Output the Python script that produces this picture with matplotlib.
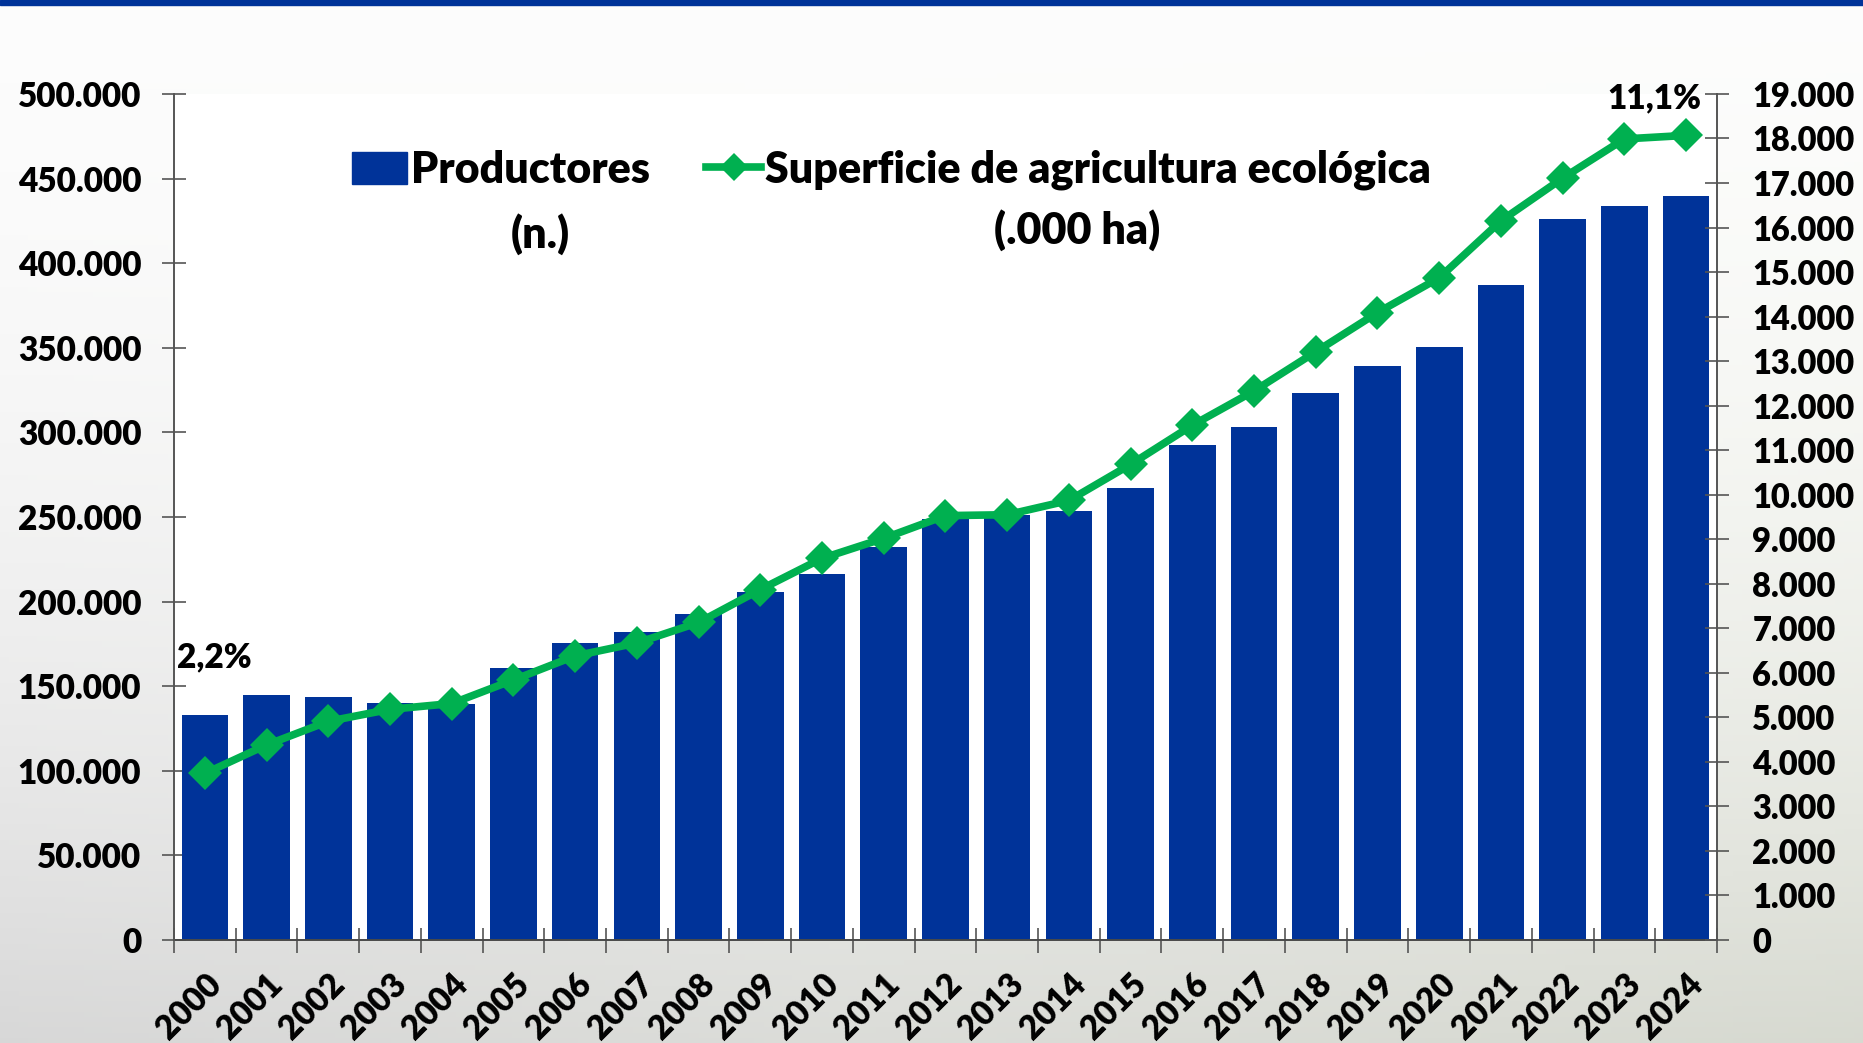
import matplotlib.pyplot as plt
import numpy as np
from matplotlib.ticker import FuncFormatter, FixedLocator
from matplotlib.lines import Line2D
from matplotlib.patches import Patch

years = [str(y) for y in range(2000, 2025)]
productores = [133000, 144800, 143800, 139900, 139500, 160800, 175600, 181900,
               192400, 205800, 216300, 232400, 248600, 251400, 253500, 266900,
               292800, 303400, 323000, 339200, 350400, 386900, 426300, 434000,
               439600]
superficie = [3740, 4380, 4910, 5180, 5310, 5840, 6380, 6670, 7130, 7870,
              8570, 9020, 9530, 9550, 9870, 10680, 11560, 12330, 13210, 14090,
              14870, 16150, 17110, 17990, 18070]
pct_first = "2,2%"
pct_last = "11,1%"

blue = "#003399"
green = "#00B050"
W = 'heavy'

plt.rcParams['font.family'] = ['Lato', 'DejaVu Sans']
plt.rcParams['font.weight'] = W

fig = plt.figure(figsize=(18.63, 10.43), dpi=100)

# background gradient
bg = fig.add_axes([0, 0, 1, 1], zorder=-10)
yy, xx = np.mgrid[0:1:200j, 0:1:200j]
shade = 0.99 - 0.13 * yy ** 2.0 - 0.03 * np.abs(xx - 0.45) * yy
img = np.dstack([shade, shade + 0.01 * yy * xx, shade - 0.025 * yy * xx])
bg.imshow(np.clip(img, 0, 1), aspect='auto', extent=[0, 1, 0, 1], origin='upper')
bg.axis('off')
fig.patches.append(plt.Rectangle((0, 0.9955), 1, 0.0045, transform=fig.transFigure,
                                 color=blue, zorder=5))

ax = fig.add_axes([0.0934, 0.0988, 0.8282, 0.8111])
ax.set_facecolor('white')
x = np.arange(len(years))
ax.bar(x, productores, width=0.755, color=blue, zorder=2)
ax.set_xlim(-0.5, len(years) - 0.5)
ax.set_ylim(0, 500000)
ax.yaxis.set_major_locator(FixedLocator(np.arange(0, 500001, 50000)))

fmt = FuncFormatter(lambda v, p: f"{int(round(v)):,}".replace(',', '.'))
ax.yaxis.set_major_formatter(fmt)

ax2 = ax.twinx()
ax2.plot(x, superficie, color=green, lw=5.5, marker='D', markersize=17,
         markeredgewidth=0, zorder=3)
ax2.set_ylim(0, 19000)
ax2.yaxis.set_major_locator(FixedLocator(np.arange(0, 19001, 1000)))
ax2.yaxis.set_major_formatter(fmt)

for a in (ax, ax2):
    a.spines['top'].set_visible(False)
    for s in a.spines.values():
        s.set_color('#555555')
        s.set_linewidth(1.2)
ax.spines['bottom'].set_color('black')

ax.tick_params(axis='y', direction='inout', length=17, width=1.2, color='#555555',
               labelsize=24, pad=15)
ax2.tick_params(axis='y', direction='inout', length=17, width=1.2, color='#555555',
                labelsize=23.5, pad=17)
ax.set_xticks(x)
ax.set_xticklabels(years, rotation=45, ha='right', rotation_mode='anchor')
ax.tick_params(axis='x', length=0, labelsize=24, pad=20)
ax.set_xticks(np.arange(-0.5, len(years), 1), minor=True)
ax.tick_params(axis='x', which='minor', direction='inout', length=18, width=1.2,
               color='#555555')
for lab in ax.get_xticklabels() + ax.get_yticklabels() + ax2.get_yticklabels():
    lab.set_fontweight(W)

ax2.text(x[0] - 0.45, superficie[0] + 2600, pct_first, fontsize=24,
         fontweight=W, ha='left', va='center')
ax2.text(x[-1] + 0.25, 18900, pct_last, fontsize=24, fontweight=W,
         ha='right', va='center')

handles = [Patch(facecolor=blue, edgecolor=blue),
           Line2D([], [], color=green, lw=5.5, marker='D', markersize=14,
                  markeredgewidth=0)]
leg = ax.legend(handles, ["Productores", "Superficie de agricultura ecológica"],
                ncol=2, frameon=False, prop={'size': 31, 'weight': W},
                handlelength=1.28, handleheight=0.75, handletextpad=0.1,
                columnspacing=1.3, loc='center', bbox_to_anchor=(0.465, 0.91))
fig.text(540 / 1863, 1 - 234 / 1043, "(n.)", fontsize=31, fontweight=W,
         ha='center', va='center')
fig.text(1077 / 1863, 1 - 230 / 1043, "(.000 ha)", fontsize=31, fontweight=W,
         ha='center', va='center')

fig.savefig('out.png', dpi=100)
